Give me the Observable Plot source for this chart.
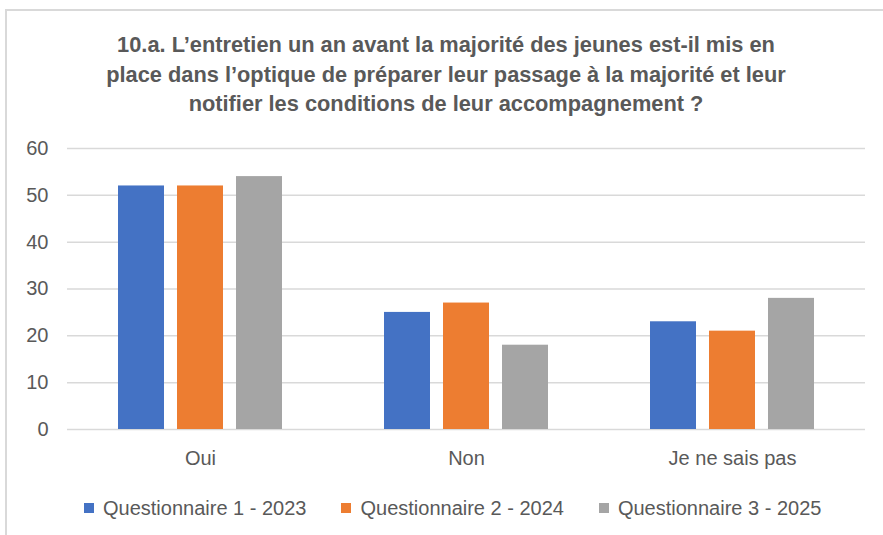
<!DOCTYPE html>
<html><head><meta charset="utf-8">
<script src="https://cdn.jsdelivr.net/npm/d3@7"></script>
<script src="https://cdn.jsdelivr.net/npm/@observablehq/plot@0.6"></script>
<style>
body{margin:0;background:#fff;}
#wrap{position:relative;width:883px;height:535px;overflow:hidden;background:#fff;font-family:"Liberation Sans",Arial,sans-serif;color:#595959;}
#frame{position:absolute;left:5px;top:9px;width:900px;height:600px;border:2px solid #d9d9d9;box-sizing:border-box;}
#title{position:absolute;left:0;width:892px;top:30px;text-align:center;font-family:"Liberation Sans",Arial,sans-serif;font-weight:bold;font-size:21.8px;line-height:29.5px;}
#chart{position:absolute;left:0;top:130px;}
#legend{position:absolute;top:498px;left:84px;display:flex;align-items:center;font-size:20px;line-height:20px;}
.item{display:flex;align-items:center;margin-right:35px;}
.sw{width:10px;height:10px;margin-right:9px;}
</style></head>
<body>
<div id="wrap">
<div id="frame"></div>
<div id="title"></div>
<div id="chart"></div>
<div id="legend"></div>
</div>
<script>
const titleLines = [
  "10.a. L’entretien un an avant la majorité des jeunes est-il mis en",
  "place dans l’optique de préparer leur passage à la majorité et leur",
  "notifier les conditions de leur accompagnement ?"
];
const categories = ["Oui", "Non", "Je ne sais pas"];
const series = ["Questionnaire 1 - 2023", "Questionnaire 2 - 2024", "Questionnaire 3 - 2025"];
const q1_2023 = [52, 25, 23];
const q2_2024 = [52, 27, 21];
const q3_2025 = [54, 18, 28];
const colors = ["#4472C4", "#ED7D31", "#A5A5A5"];
const yTicks = [0, 10, 20, 30, 40, 50, 60];

const valuesBySeries = [q1_2023, q2_2024, q3_2025];
const data = categories.flatMap((c, i) =>
  series.map((s, j) => ({category: c, series: s, value: valuesBySeries[j][i]}))
);

document.getElementById("title").innerHTML = titleLines.map(l => `<div>${l}</div>`).join("");

const chart = Plot.plot({
  width: 883,
  height: 350,
  marginLeft: 66,
  marginRight: 18,
  marginTop: 18,
  marginBottom: 51,
  style: {fontFamily: "'Liberation Sans', Arial, sans-serif", fontSize: "20px", color: "#595959", background: "transparent"},
  fx: {domain: categories, paddingInner: 0, paddingOuter: 0, label: null},
  x: {domain: series, paddingInner: 0.224, paddingOuter: 0.855, axis: null},
  y: {domain: [0, 60], label: null},
  color: {domain: series, range: colors},
  marks: [
    Plot.ruleY(yTicks, {stroke: "#d9d9d9", strokeWidth: 1.5}),
    Plot.barY(data, {fx: "category", x: "series", y: "value", fill: "series"}),
    Plot.axisY(yTicks, {tickSize: 0, tickPadding: 19, fontSize: 20, fill: "#595959", label: null}),
    Plot.axisFx({anchor: "bottom", tickSize: 0, tickPadding: 21, fontSize: 20, fill: "#595959", label: null})
  ]
});
document.getElementById("chart").appendChild(chart);

const legend = document.getElementById("legend");
series.forEach((s, i) => {
  const item = document.createElement("div");
  item.className = "item";
  item.innerHTML = `<span class="sw" style="background:${colors[i]}"></span><span>${s}</span>`;
  legend.appendChild(item);
});
</script>
</body></html>
